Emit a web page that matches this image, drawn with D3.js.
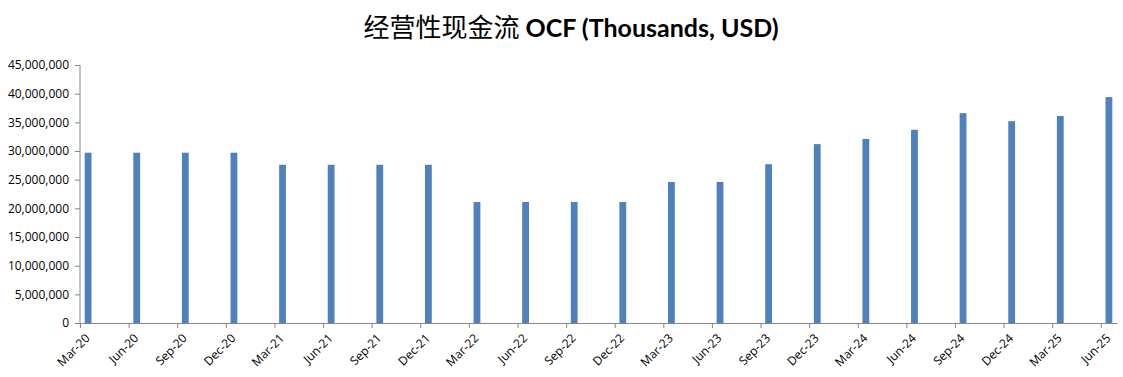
<!DOCTYPE html>
<html>
<head>
<meta charset="utf-8">
<script src="https://cdn.jsdelivr.net/npm/d3@7/dist/d3.min.js"></script>
<style>
    body { margin: 0; background: #fff; }
    .AXIS text { font-family: "Open Sans", sans-serif; font-size: 12px; fill: #000; }
    .AXIS path, .AXIS line { stroke: #868686; }
</style>
</head>
<body>
<svg id="CANVAS"></svg>
<script>
    // quarter-end labels and operating cash flow (USD thousands)
    var quarters = ["Mar-20", "Jun-20", "Sep-20", "Dec-20", "Mar-21", "Jun-21", "Sep-21", "Dec-21",
        "Mar-22", "Jun-22", "Sep-22", "Dec-22", "Mar-23", "Jun-23", "Sep-23", "Dec-23",
        "Mar-24", "Jun-24", "Sep-24", "Dec-24", "Mar-25", "Jun-25"];
    var ocf = [29700000, 29700000, 29700000, 29700000, 27600000, 27600000, 27600000, 27600000,
        21100000, 21100000, 21100000, 21100000, 24600000, 24600000, 27700000, 31200000,
        32100000, 33700000, 36600000, 35200000, 36100000, 39400000];
    var yTicks = [0, 5000000, 10000000, 15000000, 20000000, 25000000, 30000000, 35000000, 40000000, 45000000];
    var title = ["经营性现金流", " OCF (Thousands, USD)"];

    var W = 1123, H = 377;
    var L = 80, R = 1117, T = 65, B = 323;

    var svg = d3.select("#CANVAS").attr("width", W).attr("height", H);

    // date axis with a month base unit: one slot per month, label every 3 months
    var fmt = d3.timeFormat("%b-%y");
    var months = d3.timeMonth.range(new Date(2020, 2, 1), new Date(2025, 6, 1)).map(fmt);

    var x = d3.scaleBand()
        .domain(months)
        .range([L, R])
        .paddingInner(0.58)
        .paddingOuter(0.29);

    var xPos = d3.scaleLinear().domain([0, months.length]).range([L, R]);

    var y = d3.scaleLinear().domain([0, 45000000]).range([B, T]);

    svg.append("g")
        .attr("class", "AXIS")
        .attr("transform", "translate(" + L + ",0)")
        .call(d3.axisLeft(y).tickValues(yTicks).tickSize(5).tickPadding(6)
            .tickFormat(d3.format(",")))
        .call(function (g) { g.select(".domain").attr("d", "M0," + T + "V" + B); });

    var xa = svg.append("g")
        .attr("class", "AXIS")
        .attr("transform", "translate(0," + B + ")")
        .call(d3.axisBottom(xPos)
            .tickValues(quarters.map(function (q) { return months.indexOf(q); }))
            .tickSize(5).tickSizeOuter(0)
            .tickFormat(function (d) { return months[d]; }));
    xa.selectAll(".tick text")
        .attr("text-anchor", "end")
        .attr("dy", 0)
        .attr("y", 0)
        .attr("transform", "translate(10,16) rotate(-45)");

    svg.append("g")
        .selectAll("rect")
        .data(quarters)
        .enter().append("rect")
        .attr("x", function (d) { return x(d); })
        .attr("width", x.bandwidth())
        .attr("y", function (d, i) { return y(ocf[i]); })
        .attr("height", function (d, i) { return B - y(ocf[i]); })
        .attr("fill", "#4F81BD");

    var t = svg.append("text")
        .attr("x", 571)
        .attr("y", 37)
        .attr("text-anchor", "middle");
    t.append("tspan")
        .style("font-family", "'Noto Sans CJK SC'")
        .style("font-size", "26px")
        .text(title[0]);
    t.append("tspan")
        .style("font-family", "Lato, sans-serif")
        .style("font-weight", "bold")
        .style("font-size", "25px")
        .text(title[1]);
</script>
</body>
</html>
